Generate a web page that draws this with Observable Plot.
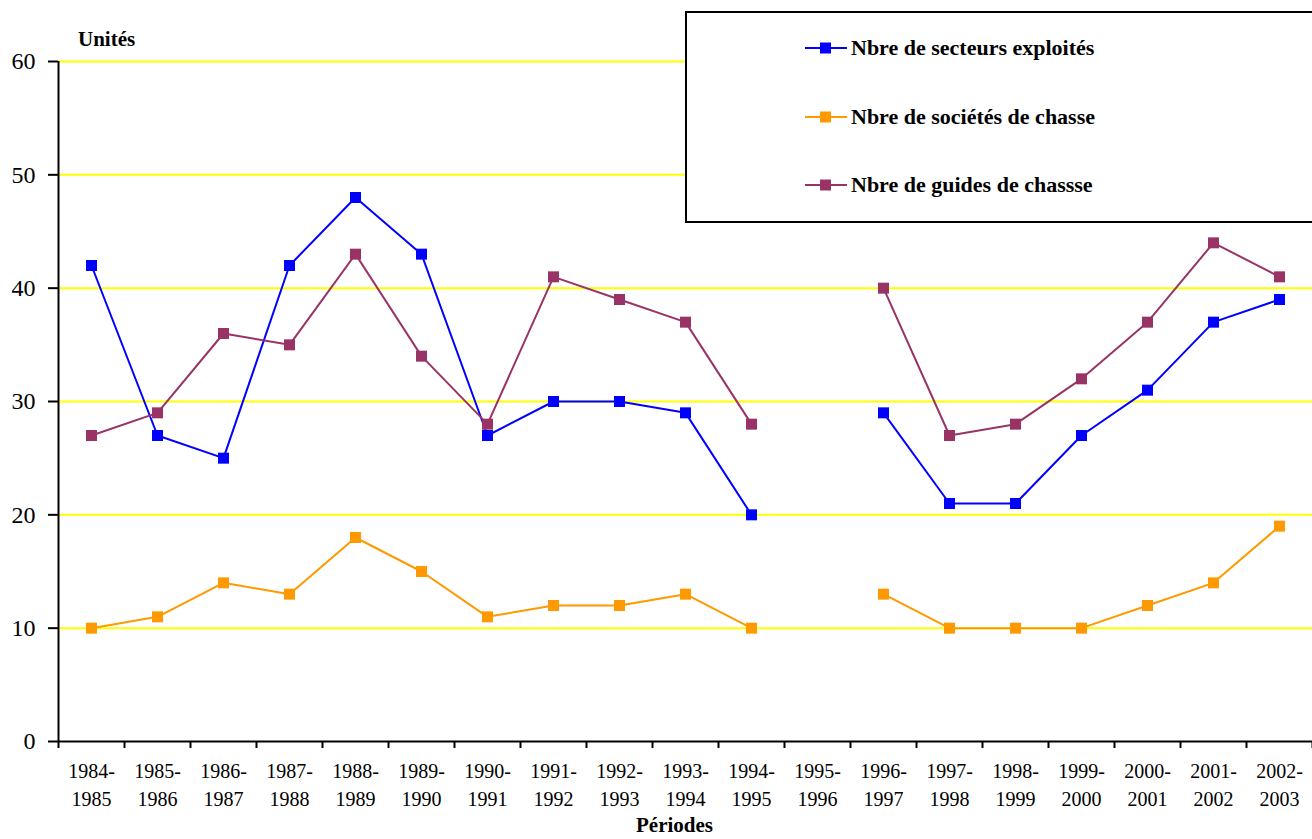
<!DOCTYPE html>
<html><head><meta charset="utf-8">
<script src="https://cdn.jsdelivr.net/npm/d3@7"></script>
<script src="https://cdn.jsdelivr.net/npm/@observablehq/plot@0.6"></script>
<style>
body{margin:0;background:#fff;font-family:'Liberation Serif','DejaVu Serif',serif;}
#wrap{position:relative;width:1312px;height:839px;overflow:hidden;background:#fff}
#wrap > svg{position:absolute;left:0;top:0}
.lbl{position:absolute;font-weight:bold;color:#000;white-space:nowrap;font-family:'Liberation Serif','DejaVu Serif',serif}
#legend{position:absolute;left:685px;top:11px;width:640px;height:208px;border:2px solid #000;background:#fff}
.lrow{position:absolute;left:118px;height:30px;display:flex;align-items:center;font-weight:bold;font-size:22px;white-space:nowrap;font-family:'Liberation Serif','DejaVu Serif',serif}
.lrow svg{position:static;margin-right:4px;flex:none}
</style></head><body><div id="wrap"></div>
<script>
const periods = ["1984-1985","1985-1986","1986-1987","1987-1988","1988-1989","1989-1990","1990-1991","1991-1992","1992-1993","1993-1994","1994-1995","1995-1996","1996-1997","1997-1998","1998-1999","1999-2000","2000-2001","2001-2002","2002-2003"];
const secteurs = [42,27,25,42,48,43,27,30,30,29,20,null,29,21,21,27,31,37,39];
const societes = [10,11,14,13,18,15,11,12,12,13,10,null,13,10,10,10,12,14,19];
const guides   = [27,29,36,35,43,34,28,41,39,37,28,null,40,27,28,32,37,44,41];
const seriesNames = ["Nbre de secteurs exploités","Nbre de sociétés de chasse","Nbre de guides de chassse"];
const seriesColors = ["#0000FF","#FF9900","#993366"];
const yTicks = [0,10,20,30,40,50,60];
const gridValues = [10,20,30,40,50,60];
const yTitle = "Unités";
const xTitle = "Périodes";

const seriesValues = [secteurs, societes, guides];
const rows = [];
seriesValues.forEach((vals, s) => vals.forEach((v, i) => rows.push({i, period: periods[i], value: v, series: seriesNames[s]})));
const dotOrder = [2, 1, 0];
const dotRows = dotOrder.flatMap(s => rows.filter(r => r.series === seriesNames[s] && r.value != null));
const idx = d3.range(periods.length);
const bounds = d3.range(periods.length + 1).map(k => k - 0.5);
const serif = "'Liberation Serif','DejaVu Serif',serif";

const chart = Plot.plot({
  width: 1312, height: 839,
  marginLeft: 58, marginRight: 0, marginTop: 61, marginBottom: 98,
  x: {type: "linear", domain: [-0.5, periods.length - 0.5]},
  y: {domain: [0, 60]},
  color: {domain: seriesNames, range: seriesColors},
  style: {fontFamily: serif, fontSize: "20px", color: "#000", background: "transparent", overflow: "visible"},
  marks: [
    Plot.ruleY(gridValues, {stroke: "#FFFF00", strokeWidth: 2}),
    Plot.line(rows, {x: "i", y: "value", z: "series", stroke: "series", strokeWidth: 2}),
    Plot.dot(dotRows, {x: "i", y: "value", fill: "series", symbol: "square", r: 6.2, stroke: null}),
    Plot.ruleY([0], {stroke: "#000", strokeWidth: 2}),
    Plot.ruleX([-0.5], {y1: 0, y2: 60, stroke: "#000", strokeWidth: 2}),
    Plot.axisY(yTicks, {tickSize: 10, tickPadding: 13, fontSize: 24, fontFamily: serif, strokeWidth: 2, label: null}),
    Plot.axisX(bounds, {tickSize: 7, tickFormat: () => "", strokeWidth: 2, label: null}),
    Plot.axisX(idx, {tickSize: 0, tickPadding: 17, fontSize: 20, fontFamily: serif, lineHeight: 1.4, label: null,
      tickFormat: i => periods[i].replace("-", "-\n")})
  ]
});
const wrap = document.getElementById("wrap");
wrap.appendChild(chart);

const yt = document.createElement("div");
yt.className = "lbl"; yt.textContent = yTitle;
yt.style.cssText = "left:78px;top:29px;font-size:21px;line-height:21px;";
wrap.appendChild(yt);
const xt = document.createElement("div");
xt.className = "lbl"; xt.textContent = xTitle;
xt.style.cssText = "left:636px;top:815px;font-size:21px;line-height:21px;";
wrap.appendChild(xt);

const legend = document.createElement("div");
legend.id = "legend";
const rowTops = [20, 89, 157];
seriesNames.forEach((name, k) => {
  const r = document.createElement("div");
  r.className = "lrow";
  r.style.top = rowTops[k] + "px";
  r.innerHTML = `<svg width="42" height="14"><line x1="0" x2="42" y1="7" y2="7" stroke="${seriesColors[k]}" stroke-width="2"/><rect x="15" y="1.5" width="11" height="11" fill="${seriesColors[k]}"/></svg><span>${name}</span>`;
  legend.appendChild(r);
});
wrap.appendChild(legend);
</script>
</body></html>
